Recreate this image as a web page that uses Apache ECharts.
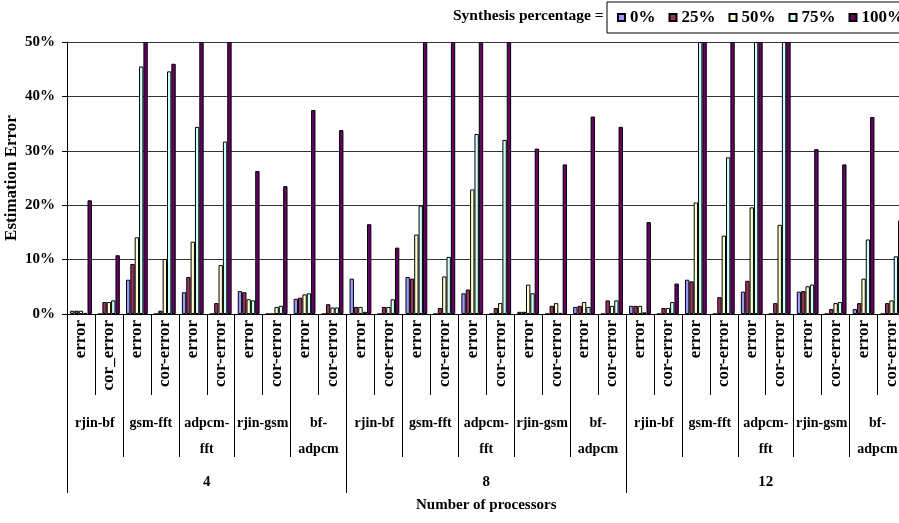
<!DOCTYPE html>
<html><head><meta charset="utf-8">
<script src="https://cdn.jsdelivr.net/npm/echarts@6/dist/echarts.min.js"></script>
<style>html,body{margin:0;padding:0;background:#fff}#c{width:899px;height:523px}</style>
</head><body><div id="c"></div>
<script>
// ---- data ----
const errorCats = [
  'error','cor_error','error','cor-error','error','cor-error','error','cor-error','error','cor-error',
  'error','cor-error','error','cor-error','error','cor-error','error','cor-error','error','cor-error',
  'error','cor-error','error','cor-error','error','cor-error','error','cor-error','error','cor-error'
];
const benchmarkCats = [
  'rjin-bf','gsm-fft','adpcm-\nfft','rjin-gsm','bf-\nadpcm',
  'rjin-bf','gsm-fft','adpcm-\nfft','rjin-gsm','bf-\nadpcm',
  'rjin-bf','gsm-fft','adpcm-\nfft','rjin-gsm','bf-\nadpcm'
];
const processorCats = ['4','8','12'];
const seriesNames = ['0%','25%','50%','75%','100%'];
const yTicks = [0, 10, 20, 30, 40, 50];

const s0   = [0.6,0, 6.3,0, 4.0,0, 4.2,0, 2.8,0,  6.5,0, 6.8,0, 3.8,0, 0.4,0, 1.3,0,  1.5,0, 6.3,0, 4.1,0, 4.1,0, 0.9,0];
const s25  = [0.6,2.2, 9.2,0.6, 6.8,2.0, 4.0,0, 3.0,1.8,  1.3,1.3, 6.5,1.1, 4.5,1.1, 0.4,1.5, 1.5,2.5,  1.5,1.1, 6.0,3.1, 6.1,2.0, 4.2,0.9, 2.0,2.0];
const s50  = [0.6,2.2, 14.1,10.1, 13.3,9.0, 2.7,1.3, 3.6,1.2,  1.3,1.3, 14.6,6.9, 22.9,2.0, 5.4,2.0, 2.2,1.5,  1.5,1.1, 20.5,14.4, 19.6,16.4, 5.1,2.0, 6.5,2.5];
const s75  = [0.2,2.5, 45.5,44.6, 34.4,31.7, 2.5,1.5, 3.8,1.2,  0.4,2.7, 19.9,10.5, 33.1,32.0, 3.8,0.2, 1.3,2.5,  0.3,2.2, 50,28.8, 50,50, 5.4,2.2, 13.7,10.6];
const s100 = [20.9,10.8, 50,46.0, 50,50, 26.3,23.5, 37.5,33.8,  16.5,12.2, 50,50, 50,50, 30.4,27.5, 36.3,34.4,  16.9,5.6, 50,50, 50,50, 30.3,27.5, 36.2,17.2];
const seriesData = [s0, s25, s50, s75, s100];
const colors = ['#9999FF','#993366','#FFFFCC','#CCFFFF','#660066'];

// ---- chart ----
const FF = '"Liberation Serif","Times New Roman",serif';
const chart = echarts.init(document.getElementById('c'), null, {renderer:'canvas'});
const txt = (size) => ({fontFamily: FF, fontWeight: 'bold', fontSize: size, color: '#000'});

chart.setOption({
  animation: false,
  backgroundColor: '#fff',
  title: {
    text: 'Synthesis percentage =',
    left: 453, top: 8, padding: 0,
    textStyle: txt(15.5)
  },
  legend: {
    data: seriesNames,
    left: 607, top: 2, width: 330,
    padding: [7, 2, 7, 10],
    itemWidth: 7, itemHeight: 7, itemGap: 13,
    icon: 'rect',
    borderColor: '#000', borderWidth: 1,
    backgroundColor: '#fff',
    textStyle: txt(17)
  },
  grid: { left: 67, top: 42, width: 838.5, height: 272, outerBoundsMode: 'none', containLabel: false },
  xAxis: [
    {
      type: 'category', data: errorCats, position: 'bottom',
      axisLine: { show: true, onZero: false, lineStyle: { color: '#000', width: 1 } },
      axisTick: { show: true, interval: 0, length: 81, lineStyle: { color: '#000' } },
      axisLabel: Object.assign({ interval: 0, rotate: 90, margin: 6 }, txt(17)),
      splitLine: { show: false }
    },
    {
      type: 'category', data: benchmarkCats, position: 'bottom',
      axisLine: { show: false },
      axisTick: { show: true, interval: 0, length: 143, lineStyle: { color: '#000' } },
      axisLabel: Object.assign({ interval: 0, margin: 96, lineHeight: 26 }, txt(14)),
      splitLine: { show: false }
    },
    {
      type: 'category', data: processorCats, position: 'bottom',
      axisLine: { show: false },
      axisTick: { show: true, interval: 0, length: 179, lineStyle: { color: '#000' } },
      axisLabel: Object.assign({ interval: 0, margin: 161 }, txt(15)),
      name: 'Number of processors', nameLocation: 'middle', nameGap: 184,
      nameMoveOverlap: false,
      nameTextStyle: txt(15),
      splitLine: { show: false }
    }
  ],
  yAxis: {
    type: 'value', min: yTicks[0], max: yTicks[yTicks.length-1], interval: 10,
    axisLine: { show: true, lineStyle: { color: '#000' } },
    axisTick: { show: true, length: 5, lineStyle: { color: '#000' } },
    axisLabel: Object.assign({ formatter: '{value}%', margin: 12 }, txt(15)),
    splitLine: { show: true, lineStyle: { color: '#333', width: 1 } },
    name: 'Estimation Error', nameLocation: 'middle', nameGap: 47,
    nameMoveOverlap: false,
    nameTextStyle: txt(17)
  },
  series: seriesNames.map((n, i) => ({
    name: n, type: 'bar', xAxisIndex: 0,
    data: seriesData[i],
    barGap: '0%', barCategoryGap: '22%',
    clip: true,
    itemStyle: { color: colors[i], borderColor: '#000', borderWidth: 1 }
  }))
});
</script>
</body></html>
